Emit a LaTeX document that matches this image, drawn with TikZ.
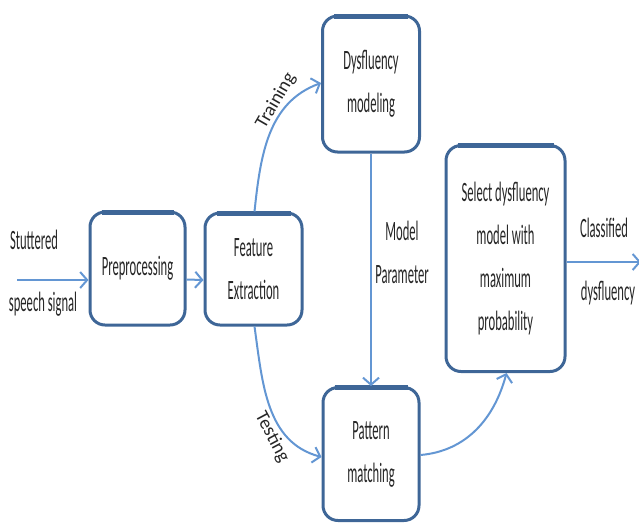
\documentclass[tikz,border=0pt]{standalone}
\usepackage{fontspec}
\setmainfont{Carlito}[FakeStretch=0.45]
\newfontfamily\plainface{Carlito}
\usepackage{tikz}
\usetikzlibrary{arrows.meta, positioning, calc}
\definecolor{boxblue}{HTML}{3E6697}
\definecolor{flowblue}{HTML}{6396D3}
\definecolor{inkgray}{HTML}{262626}

\begin{document}
\begin{tikzpicture}[x=1pt, y=1pt,
    font=\fontsize{28}{43}\selectfont, text=inkgray,
    block/.style={draw=boxblue, line width=3pt, rounded corners=15pt, fill=white, align=center, inner sep=0pt},
    flow/.style={draw=flowblue, line width=2pt, -{Straight Barb[length=7pt,width=16pt]}},
    lbl/.style={align=center, inner sep=0pt},
    slanted/.style={inner sep=0pt, font=\plainface\fontsize{19}{22}\selectfont}]
  \useasboundingbox (0,0) rectangle (639,-523);
  % Blocks
  \node[block, minimum width=95pt, minimum height=113pt] (pre) at (137.5,-268.5) {Preprocessing};
  \node[block, minimum width=97pt, minimum height=112pt] (feat) at (253.5,-269) {Feature\\Extraction};
  \node[block, minimum width=97pt, minimum height=136pt] (dys) at (371,-84) {Dysfluency\\modeling};
  \node[block, minimum width=96pt, minimum height=133pt] (pat) at (371,-454) {Pattern\\matching};
  \node[block, minimum width=119pt, minimum height=226pt] (sel) at (505.5,-258.5) {Select dysfluency\\model with\\maximum\\probability};
  \foreach \b in {pre,feat,dys,pat,sel}
    \draw[boxblue, line width=5pt] ([xshift=13pt,yshift=-1.5pt]\b.north west) -- ([xshift=-13pt,yshift=-1.5pt]\b.north east);
  % Flow
  \coordinate (in) at (17,-280);
  \coordinate (out) at (641,-262);
  \draw[flow] (in) -- (in -| pre.west);
  \draw[flow] ([yshift=-11pt]pre.east) -- ([yshift=-11pt]feat.west);
  \draw[flow] ([xshift=1pt]feat.north) to[out=84, in=200] ([yshift=1pt]dys.west);
  \draw[flow] ([xshift=1pt]feat.south) to[out=-82, in=165] ([yshift=-3pt]pat.west);
  \draw[flow] (dys.south) -- (pat.north);
  \draw[flow] ([yshift=-1pt]pat.east) to[out=5, in=-105] ([xshift=1pt]sel.south);
  \draw[flow] (sel.east |- out) -- (out);
  % Labels
  \node[lbl] (stut) at (34,-240) {Stuttered};
  \node[lbl] (sig) at (43,-304) {speech signal};
  \node[slanted, rotate=60] (train) at (276,-101) {Training};
  \node[slanted, rotate=-62] (test) at (272,-437) {Testing};
  \node[lbl] (param) at (402,-252) {Model\\Parameter};
  \node[lbl] (cls) at (604,-228) {Classified};
  \node[lbl] (dysf) at (608,-293) {dysfluency};
\end{tikzpicture}
\end{document}
